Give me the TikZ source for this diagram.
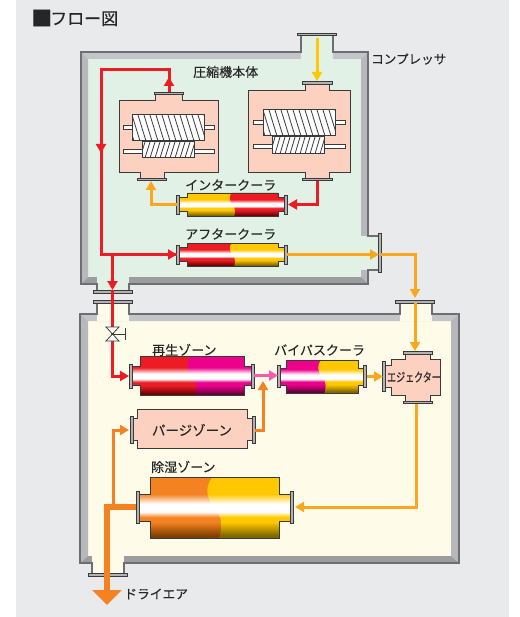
\documentclass[tikz,border=0pt]{standalone}
\usepackage{xcolor}
\usepackage{fontspec}
\setmainfont{Noto Sans CJK JP}[FakeBold=0.2]
\usetikzlibrary{arrows.meta}
\definecolor{panelgray}{HTML}{E9EAEC}
\definecolor{edgegray}{HTML}{6D6E71}
\definecolor{bandlight}{HTML}{C3C5C8}
\definecolor{bandside}{HTML}{B6B8BB}
\definecolor{banddark}{HTML}{9B9D9F}
\definecolor{comppanel}{HTML}{E2F1E6}
\definecolor{dryerpanel}{HTML}{FEFCE9}
\definecolor{salmon}{HTML}{FDD1C0}
\definecolor{inkgray}{HTML}{3A3A3C}
\definecolor{hotred}{HTML}{ED1C24}
\definecolor{hotreddk}{HTML}{6E0004}
\definecolor{warmyel}{HTML}{FFC800}
\definecolor{warmyeldk}{HTML}{806600}
\definecolor{regmag}{HTML}{EC008C}
\definecolor{regmagdk}{HTML}{640038}
\definecolor{dryorg}{HTML}{F58220}
\definecolor{dryorgdk}{HTML}{7E4000}
\definecolor{airorg}{HTML}{FCA51F}
\definecolor{pinkflow}{HTML}{F45EA8}
\newcommand{\pipeshade}[3]{\pgfdeclareverticalshading{#1}{100bp}{color(0bp)=(#3); color(25bp)=(#3); color(27bp)=(#3); color(38bp)=(#2); color(42bp)=(#2); color(46.5bp)=(white); color(53bp)=(white); color(61bp)=(#2); color(100bp)=(#2)}}
\pipeshade{redpipe}{hotred}{hotreddk}
\pipeshade{yelpipe}{warmyel}{warmyeldk}
\pipeshade{magpipe}{regmag}{regmagdk}
\pipeshade{orgpipe}{dryorg}{dryorgdk}
\tikzset{
  outline/.style={draw=inkgray,line width=.8pt},
  flangebar/.style={draw=inkgray,fill=gray!60,line width=.6pt},
  wallline/.style={draw=edgegray,line width=1.1pt},
  tag/.style={inner sep=0pt,font=\fontsize{13}{13}\selectfont,text=black!85},
  flow/.style={line width=3pt},
  tip/.style={-{Triangle[length=9pt,width=10pt]}},
}
\newcommand{\pipeunit}[9]{
  \begin{scope}
    \clip (#1,#5-#7) -- (#2,#5-#7) -- (#2,#5-#6) -- (#3,#5-#6) -- (#3,#5-#7) -- (#4,#5-#7)
      -- (#4,#5+#7) -- (#3,#5+#7) -- (#3,#5+#6) -- (#2,#5+#6) -- (#2,#5+#7) -- (#1,#5+#7) -- cycle;
    \shade[shading=#8] (#1,#5-#6) rectangle (#4,#5+#6);
    \pgfmathsetmacro{\midx}{(#2+#3)/2}
    \pgfmathsetmacro{\hh}{2*#6}
    \clip (\midx-.03*\hh,#5-#6) .. controls (\midx-.16*\hh,#5-#6+.15*\hh) and (\midx-.14*\hh,#5-#6+.35*\hh) .. (\midx,#5)
      .. controls (\midx+.14*\hh,#5+.15*\hh) and (\midx+.12*\hh,#5+.35*\hh) .. (\midx+.08*\hh,#5+#6)
      -- (#4,#5+#6) -- (#4,#5-#6) -- cycle;
    \shade[shading=#9] (#1,#5-#6) rectangle (#4,#5+#6);
  \end{scope}
  \draw[outline] (#1,#5-#7) -- (#2,#5-#7) -- (#2,#5-#6) -- (#3,#5-#6) -- (#3,#5-#7) -- (#4,#5-#7)
      (#4,#5+#7) -- (#3,#5+#7) -- (#3,#5+#6) -- (#2,#5+#6) -- (#2,#5+#7) -- (#1,#5+#7);
  \draw[flangebar] (#1-1.5,#5-#7-2.5) rectangle (#1+1.5,#5+#7+2.5);
  \draw[flangebar] (#4-1.5,#5-#7-2.5) rectangle (#4+1.5,#5+#7+2.5);
}
\newcommand{\screwrotor}[6]{
  \begin{scope}
    \clip (#1,#2) rectangle (#3,#4);
    \fill[white] (#1,#2) rectangle (#3,#4);
    \foreach \i in {0,...,22} \draw[inkgray,line width=.8pt] (#1-12+\i*#5,#2) -- ++(#6,#4-#2);
  \end{scope}
  \draw[inkgray,line width=1pt] (#1,#2) rectangle (#3,#4);
}
\begin{document}
\begin{tikzpicture}[x=1pt,y=-1pt]
\useasboundingbox (0,0) rectangle (519,617);
\fill[panelgray] (16,0) rectangle (509,617);
\node[tag,anchor=west,font=\fontsize{17}{17}\selectfont] (title) at (33,18) {\makebox[17pt][c]{\raisebox{-1.2pt}{\fontsize{21}{17}\selectfont ■}}フロー図};

\fill[comppanel] (81,52) rectangle (368,284);
\fill[bandlight] (81,52) -- (368,52) -- (361,59) -- (88,59) -- cycle;
\fill[bandside] (81,52) -- (88,59) -- (88,277) -- (81,284) -- cycle;
\fill[bandside] (368,52) -- (361,59) -- (361,277) -- (368,284) -- cycle;
\fill[banddark] (81,284) -- (88,277) -- (361,277) -- (368,284) -- cycle;
\fill[comppanel] (301,35) rectangle (333,59);
\fill[comppanel] (361,236) rectangle (379,270);
\fill[comppanel] (97,277) rectangle (129,292);
\draw[wallline] (301,34) -- (301,52) -- (81,52) -- (81,284) -- (97,284) -- (97,291)
  (129,291) -- (129,284) -- (368,284) -- (368,270) -- (379,270)
  (379,236) -- (368,236) -- (368,52) -- (333,52) -- (333,34);
\draw[flangebar] (297,33) rectangle (336,35.5);
\draw[flangebar] (378.5,233) rectangle (381,272);
\draw[flangebar] (93,290) rectangle (132,293);
\node[tag,anchor=west,font=\fontsize{12.6}{13}\selectfont] (compressor) at (371,59) {コンプレッサ};
\node[tag,anchor=west] (mainbody) at (193,72) {圧縮機本体};

\fill[dryerpanel] (80,314) rectangle (459,563);
\fill[bandlight] (80,314) -- (459,314) -- (451,321) -- (88,321) -- cycle;
\fill[bandside] (80,314) -- (88,321) -- (88,556) -- (80,563) -- cycle;
\fill[bandside] (459,314) -- (451,321) -- (451,556) -- (459,563) -- cycle;
\fill[banddark] (80,563) -- (88,556) -- (451,556) -- (459,563) -- cycle;
\fill[dryerpanel] (97,302) rectangle (129,321);
\fill[dryerpanel] (400,302) rectangle (432,321);
\fill[dryerpanel] (92,556) rectangle (124,575);
\draw[wallline] (97,302) -- (97,314) -- (80,314) -- (80,563) -- (92,563) -- (92,574)
  (124,574) -- (124,563) -- (459,563) -- (459,314) -- (432,314) -- (432,302)
  (400,302) -- (400,314) -- (129,314) -- (129,302);
\draw[flangebar] (93,300) rectangle (132,303);
\draw[flangebar] (395,300) rectangle (434,303);
\draw[flangebar] (88,573.5) rectangle (127,576);

\filldraw[fill=salmon,outline] (119,100) -- (155,100) -- (155,94) -- (182,94) -- (182,100) -- (218,100) -- (218,172)
  -- (164,172) -- (164,178) -- (140,178) -- (140,172) -- (119,172) -- cycle;
\draw[flangebar] (154,92) rectangle (183,94);
\draw[flangebar] (137,178) rectangle (166,180.5);
\filldraw[fill=white,outline] (123,125.5) rectangle (214,129.5);
\filldraw[fill=white,outline] (123,149) rectangle (214,153);
\screwrotor{132}{115}{204}{141}{6}{8}
\screwrotor{142}{142}{194}{158}{5}{-5}

\filldraw[fill=salmon,outline] (248,90) -- (305,90) -- (305,84) -- (329,84) -- (329,90) -- (350,90) -- (350,172)
  -- (329,172) -- (329,178) -- (305,178) -- (305,172) -- (248,172) -- cycle;
\draw[flangebar] (302,81.5) rectangle (332,84);
\draw[flangebar] (302,178) rectangle (332,180.5);
\filldraw[fill=white,outline] (253,120.5) rectangle (345,124.5);
\filldraw[fill=white,outline] (253,144) rectangle (345,148);
\screwrotor{263}{110}{335}{136}{6}{8}
\screwrotor{272}{137}{324}{154}{5}{-5}

\node[tag,anchor=west] (intercooler) at (185,185) {インタークーラ};
\pipeunit{178}{187}{278}{286}{204.5}{11.5}{7}{yelpipe}{redpipe}
\node[tag,anchor=west] (aftercooler) at (185,234) {アフタークーラ};
\pipeunit{178}{187}{278}{286}{254.5}{11.5}{7}{redpipe}{yelpipe}

\node[tag,anchor=west] (regenlabel) at (152,350) {再生ゾーン};
\pipeunit{131}{140}{244}{253}{376}{19.5}{9.5}{redpipe}{magpipe}
\node[tag,anchor=west] (bypasslabel) at (274,350) {バイパスクーラ};
\pipeunit{279}{286}{358}{365}{376.5}{16.5}{8.5}{magpipe}{yelpipe}
\node[tag,anchor=west] (dehumidlabel) at (151,467) {除湿ゾーン};
\pipeunit{138}{150}{279}{292}{507.5}{30.5}{13.5}{orgpipe}{yelpipe}

\filldraw[fill=salmon,outline] (133,418) -- (137,418) -- (137,409) -- (247,409) -- (247,418) -- (252,418)
  -- (252,440) -- (247,440) -- (247,448) -- (137,448) -- (137,440) -- (133,440) -- cycle;
\draw[flangebar] (130,416) rectangle (133,443);
\draw[flangebar] (252,416) rectangle (255,443);
\node[tag,font=\fontsize{13.5}{14}\selectfont] (purgelabel) at (192,430) {パージゾーン};

\filldraw[fill=salmon,outline] (385,365) -- (391,365) -- (391,359) -- (405,359) -- (405,354) -- (430,354) -- (430,359) -- (440,359)
  -- (440,395) -- (430,395) -- (430,401) -- (405,401) -- (405,395) -- (391,395) -- (391,387) -- (385,387) -- cycle;
\draw[flangebar] (382.5,361) rectangle (385,391);
\draw[flangebar] (403,351.5) rectangle (432,354);
\draw[flangebar] (403,401) rectangle (432,403.5);
\node[inner sep=0pt,xscale=.72,font=\fontsize{12.5}{13}\selectfont,text=black!85] (ejectorlabel) at (414,377) {エジェクター};

\coordinate (feedin) at (317,38);
\coordinate (rightin) at (317,81);
\coordinate (rightout) at (317,181);
\coordinate (interin) at (288,204.5);
\coordinate (interout) at (177,204.5);
\coordinate (leftin) at (151,181);
\coordinate (leftout) at (169,92);
\coordinate (leftup) at (169,77);
\coordinate (redturn) at (101,70);
\coordinate (reddown) at (101,153);
\coordinate (redjoin) at (101,254.5);
\coordinate (afterin) at (177,254.5);
\coordinate (afterout) at (287,254.5);
\coordinate (branch) at (112.5,254.5);
\coordinate (branchtip) at (112.5,290);
\coordinate (regenin) at (129,376);
\coordinate (wallport) at (379,254.5);
\coordinate (wallout) at (381,254.5);
\coordinate (dryertop) at (415,298);
\coordinate (dryerport) at (415,303);
\coordinate (ejectin) at (415,351);
\coordinate (ejectout) at (416,404);
\coordinate (ejectin2) at (383,376.5);
\coordinate (dehumidin) at (295,507);
\coordinate (dehumidout) at (136,507);
\coordinate (drytee) at (113,507);
\coordinate (dryarrow) at (107,605);
\coordinate (purgein) at (129,430);
\coordinate (purgeout) at (255,430);
\coordinate (bypassin) at (278,375.5);
\coordinate (regenout) at (254,375.5);
\coordinate (bypassout) at (367,376.5);
\coordinate (purgetip) at (263,381);

\draw[flow,warmyel,tip] (feedin) -- (rightin);
\draw[flow,hotred,tip] (rightout) |- (interin);
\draw[flow,airorg,tip] (interout) -| (leftin);
\draw[flow,hotred,tip] (leftout) -- (leftup);
\draw[flow,hotred] (leftout) -- (leftout |- redturn) -- (redturn) -- (redjoin) -- (afterin);
\draw[flow,hotred,tip] (redturn) -- (reddown);
\draw[flow,hotred,tip] (redjoin) -- (afterin);
\draw[flow,hotred,tip] (branch) -- (branchtip);
\draw[flow,hotred,tip] (branchtip) |- (regenin);
\draw[flow,airorg,tip] (afterout) -- (wallport);
\draw[flow,airorg,tip] (wallout) -| (dryertop);
\draw[flow,airorg,tip] (dryerport) -- (ejectin);
\draw[flow,pinkflow,tip] (regenout) -- (bypassin);
\draw[flow,airorg,tip] (bypassout) -- (ejectin2);
\draw[flow,airorg,tip] (ejectout) |- (dehumidin);
\draw[flow,dryorg,tip] (purgeout) -| (purgetip);
\draw[flow,dryorg,tip] (drytee) |- (purgein);
\draw[line width=6pt,dryorg,-{Triangle[length=15pt,width=29pt]}] (dehumidout) -| (dryarrow);
\node[tag,anchor=west,font=\fontsize{12.8}{13}\selectfont] (dryair) at (124,594) {ドライエア};

\draw[inkgray,line width=.6pt] (112.5,334) -- (125,334) (125,328) -- (125,340);
\filldraw[fill=white,draw=inkgray,line width=.8pt] (106,327) -- (119,327) -- (106,341) -- (119,341) -- cycle;
\end{tikzpicture}
\end{document}
